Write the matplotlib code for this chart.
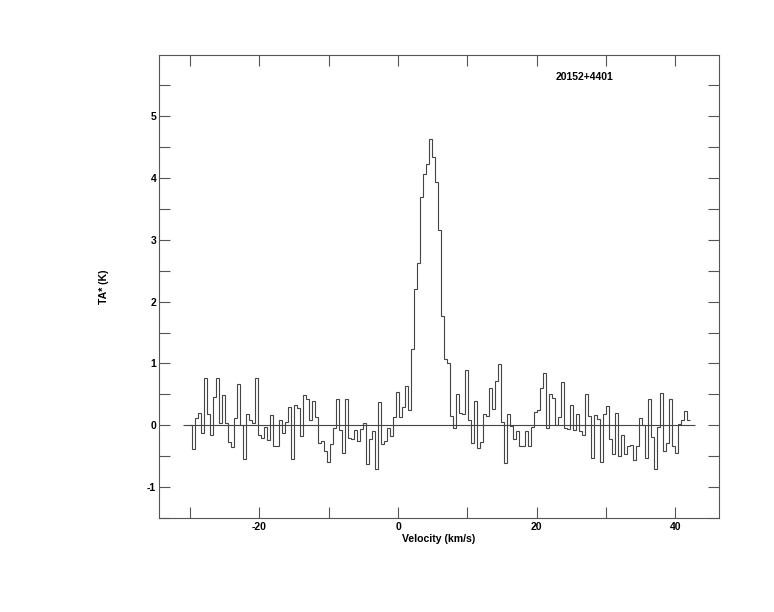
import numpy as np
import matplotlib
matplotlib.use("Agg")
import matplotlib.pyplot as plt
from matplotlib.ticker import MultipleLocator

# spectrum of 20152+4401: antenna temperature per channel (K)
source_name = "20152+4401"
chan_first_edge = -30.1   # km/s, low edge of the first channel
chan_width = 0.4323       # km/s
ta_star = [
    0.01, -0.39, 0.11, 0.20, -0.13, 0.77, 0.19, -0.15, 0.45, 0.77,
    0.04, 0.49, 0.04, -0.27, -0.35, 0.11, 0.66, 0.01, -0.55, 0.19,
    0.09, 0.04, 0.77, -0.16, -0.21, -0.02, -0.24, 0.17, -0.33, -0.33,
    0.09, -0.13, 0.06, 0.30, -0.54, 0.33, 0.28, -0.18, 0.49, 0.43,
    0.09, 0.39, 0.13, -0.29, -0.26, -0.42, -0.60, -0.30, -0.05, 0.43,
    -0.07, -0.45, 0.42, -0.21, -0.22, -0.08, -0.25, -0.06, 0.04, -0.62,
    -0.22, -0.10, -0.70, 0.38, -0.31, -0.26, -0.04, -0.18, 0.14, 0.54,
    0.14, 0.29, 0.63, 0.24, 1.23, 2.20, 2.62, 3.70, 4.06, 4.22,
    4.63, 4.34, 3.94, 3.16, 1.77, 1.08, 1.01, 0.15, -0.05, 0.51,
    0.20, 0.18, 0.90, 0.08, -0.29, 0.40, -0.36, -0.27, 0.18, 0.15,
    0.61, 0.26, 0.72, 0.99, 0.06, -0.61, 0.19, -0.01, -0.23, -0.09,
    -0.34, -0.34, -0.09, -0.34, -0.03, 0.21, 0.24, 0.61, 0.84, -0.05,
    0.51, 0.44, 0.00, 0.13, 0.70, -0.04, -0.06, 0.33, -0.08, 0.18,
    -0.10, -0.16, 0.51, 0.15, -0.53, 0.17, 0.10, -0.60, 0.18, 0.31,
    -0.22, -0.46, 0.20, -0.50, -0.15, -0.46, -0.34, -0.32, -0.56, -0.34,
    0.11, 0.00, -0.53, 0.43, -0.19, -0.70, -0.02, 0.52, -0.41, -0.28,
    0.43, -0.33, -0.45, 0.02, 0.08, 0.23, 0.08,
]
baseline_range = [-31.0, 42.9]

edges = chan_first_edge + chan_width * np.arange(len(ta_star) + 1)

plt.rcParams["font.family"] = ["Liberation Sans", "DejaVu Sans"]
plt.rcParams["font.weight"] = "bold"
plt.rcParams["axes.unicode_minus"] = False

fig = plt.figure(figsize=(7.74, 6.12), dpi=100)
ax = fig.add_axes([0.2054, 0.1536, 0.7235, 0.7565])

axis_color = "#555555"
line_color = "#444444"

ax.stairs(ta_star, edges, baseline=None, color=line_color, linewidth=0.8)
ax.hlines(0, baseline_range[0], baseline_range[1], color=line_color, linewidth=0.8)

ax.set_xlim(-34.5, 46.3)
ax.set_ylim(-1.5, 5.99)

ax.xaxis.set_major_locator(MultipleLocator(20))
ax.xaxis.set_minor_locator(MultipleLocator(10))
ax.yaxis.set_major_locator(MultipleLocator(1))
ax.yaxis.set_minor_locator(MultipleLocator(0.5))
ax.tick_params(which="both", direction="in", top=True, right=True,
               color=axis_color, width=0.8, labelsize=7.5)
ax.tick_params(which="major", length=8)
ax.tick_params(which="minor", length=8)
ax.tick_params(axis="x", pad=3)
ax.tick_params(axis="y", pad=2)
for sp in ax.spines.values():
    sp.set_color(axis_color)
    sp.set_linewidth(0.8)

ax.set_xlabel("Velocity (km/s)", fontsize=7.6, fontweight="bold", labelpad=1)
ax.set_ylabel("TA* (K)", fontsize=7.6, fontweight="bold")
ax.yaxis.set_label_coords(-0.09, 0.5)

ax.text(22.8, 5.63, source_name, fontsize=7.5, fontweight="bold",
        ha="left", va="center")

fig.savefig("out.png", dpi=100)
